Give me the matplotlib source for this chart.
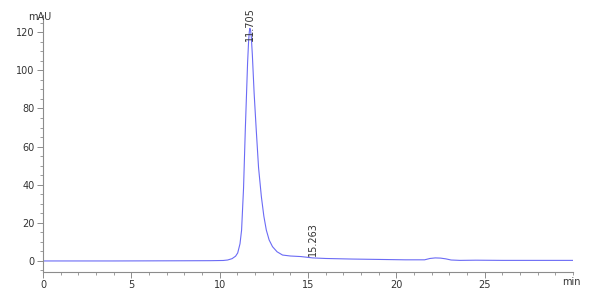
import matplotlib.pyplot as plt
from matplotlib.ticker import MultipleLocator

# chromatogram trace (min, mAU)
time_min = [
    0.0, 2.0, 4.0, 6.0, 8.0, 9.5, 10.2, 10.45, 10.7, 10.9, 11.02, 11.15,
    11.24, 11.35, 11.45, 11.51, 11.58, 11.64, 11.68, 11.71, 11.75, 11.79,
    11.85, 11.95, 12.07, 12.2, 12.36, 12.5, 12.64, 12.8, 12.99, 13.25,
    13.56, 14.0, 14.6, 15.263, 16.0, 17.5, 19.0, 20.5, 21.6, 21.9, 22.2,
    22.5, 22.8, 23.1, 23.6, 24.5, 26.0, 28.0, 30.0,
]
signal_mau = [
    0.0, 0.0, 0.0, 0.05, 0.1, 0.15, 0.25, 0.5, 1.2, 2.5, 4.2, 9.0,
    16.2, 38.0, 68.7, 85.0, 104.0, 115.8, 120.5, 122.0, 121.0, 117.6,
    108.0, 88.0, 68.7, 49.0, 33.7, 23.5, 16.2, 11.0, 7.5, 4.8,
    3.1, 2.6, 2.3, 1.6, 1.3, 1.0, 0.8, 0.6, 0.6, 1.3, 1.6,
    1.5, 1.1, 0.5, 0.3, 0.4, 0.3, 0.3, 0.3,
]

peak_times = [11.705, 15.263]
peak_labels = ["11.705", "15.263"]
peak_label_y = [115.5, 2.5]

line_color = "#6b6bf5"
axis_color = "#8c8c8c"
text_color = "#333333"

fig = plt.figure(figsize=(6.0, 3.01), dpi=100)
ax = fig.add_axes([0.0717, 0.0963, 0.8833, 0.8537])

ax.plot(time_min, signal_mau, color=line_color, linewidth=0.8)

for t, lab, y in zip(peak_times, peak_labels, peak_label_y):
    ax.text(t, y, lab, rotation=90, ha="center", va="bottom",
            fontsize=7, color=text_color)

ax.set_xlim(0, 30)
ax.set_ylim(-5.8, 129)

ax.set_xticks([0, 5, 10, 15, 20, 25])
ax.set_yticks([0, 20, 40, 60, 80, 100, 120])
ax.xaxis.set_minor_locator(MultipleLocator(1))
ax.yaxis.set_minor_locator(MultipleLocator(5))

for side in ["top", "right"]:
    ax.spines[side].set_visible(False)
for side in ["left", "bottom"]:
    ax.spines[side].set_color(axis_color)
    ax.spines[side].set_linewidth(0.8)

ax.tick_params(axis="both", which="major", length=4, width=0.7,
               color=axis_color, labelsize=7, labelcolor=text_color, pad=2)
ax.tick_params(axis="both", which="minor", length=2, width=0.6,
               color=axis_color)

fig.text(28 / 600, 1 - 17 / 301, "mAU", fontsize=7, color=text_color,
         ha="left", va="center")
fig.text(562 / 600, 1 - 282 / 301, "min", fontsize=7, color=text_color,
         ha="left", va="center")

fig.savefig("out.png", dpi=100)
